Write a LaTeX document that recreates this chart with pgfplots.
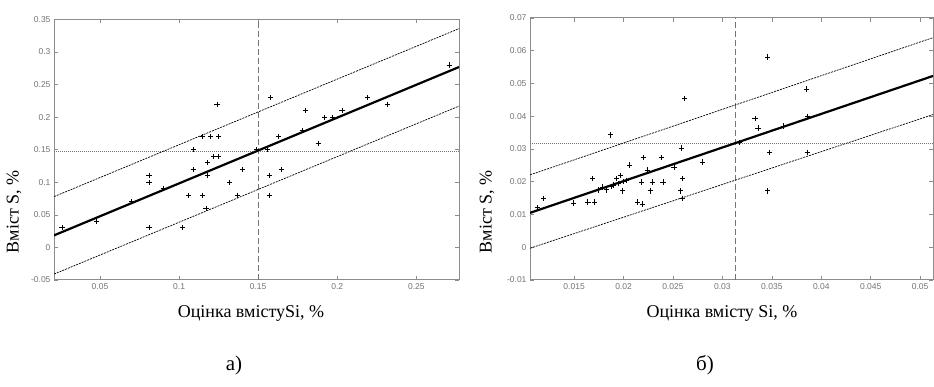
\documentclass[border=0pt]{standalone}
\usepackage{fontspec}
\setmainfont{Liberation Serif}
\newfontfamily\ticksans{Liberation Sans}
\usepackage{pgfplots}
\pgfplotsset{compat=1.18}

\pgfplotsset{
  regr/.style={
    scale only axis,
    axis line style={black!45, line width=1pt},
    tick style={black!45, line width=0.6pt},
    major tick length=4pt,
    tick align=inside,
    ticklabel style={font=\ticksans\fontsize{8.5}{8.5}\selectfont, text=black!55},
    scaled ticks=false,
    /pgf/number format/fixed,
    /pgf/number format/precision=3,
    /pgf/number format/assume math mode=true,
    clip=true,
  },
  obs/.style={only marks, mark=+, mark size=2.6pt, black, line width=0.9pt},
  fit/.style={black, line width=2.2pt},
  band/.style={black, line width=0.7pt, dash pattern=on 2pt off 1pt},
  vmean/.style={black!55, line width=0.7pt, dash pattern=on 6pt off 3pt},
  hmean/.style={black!55, line width=0.7pt, dash pattern=on 1pt off 1pt},
}

\begin{document}
\begin{tikzpicture}[x=1pt,y=1pt]
\useasboundingbox (0,0) rectangle (934,387);

% ---------- a) ----------
\begin{axis}[regr, at={(54pt,107pt)}, anchor=south west,
  width=405pt, height=260.5pt,
  xmin=0.0209, xmax=0.277, ymin=-0.05, ymax=0.35,
  xtick={0.05,0.1,0.15,0.2,0.25},
  ytick={-0.05,0,0.05,0.1,0.15,0.2,0.25,0.3,0.35}]
\addplot[vmean] coordinates {(0.15,-0.05) (0.15,0.35)};
\addplot[hmean] coordinates {(0.0209,0.148) (0.277,0.148)};
\addplot[band] coordinates {(0.0209,0.078) (0.277,0.336)};
\addplot[band] coordinates {(0.0209,-0.041) (0.277,0.217)};
\addplot[fit] coordinates {(0.0209,0.0185) (0.277,0.277)};
\addplot[obs] coordinates {
 (0.026,0.03) (0.048,0.04) (0.07,0.07) (0.081,0.03) (0.081,0.10) (0.081,0.11)
 (0.09,0.09) (0.102,0.03) (0.106,0.08) (0.109,0.12) (0.109,0.15) (0.115,0.08)
 (0.115,0.17) (0.117,0.06) (0.118,0.11) (0.118,0.13) (0.12,0.17) (0.122,0.14)
 (0.124,0.22) (0.125,0.14) (0.125,0.17) (0.132,0.10) (0.137,0.08) (0.14,0.12)
 (0.149,0.15) (0.156,0.15) (0.157,0.11) (0.157,0.08) (0.158,0.23) (0.163,0.17)
 (0.165,0.12) (0.178,0.18) (0.18,0.21) (0.188,0.16) (0.192,0.20) (0.197,0.20)
 (0.203,0.21) (0.219,0.23) (0.232,0.22) (0.271,0.28)};
\end{axis}

% ---------- б) ----------
\begin{axis}[regr, at={(530pt,107pt)}, anchor=south west,
  width=403pt, height=262pt,
  xmin=0.01054, xmax=0.0513, ymin=-0.01, ymax=0.07,
  xtick={0.015,0.02,0.025,0.03,0.035,0.04,0.045,0.05},
  ytick={-0.01,0,0.01,0.02,0.03,0.04,0.05,0.06,0.07}]
\addplot[vmean] coordinates {(0.0313,-0.01) (0.0313,0.07)};
\addplot[hmean] coordinates {(0.01054,0.0318) (0.0513,0.0318)};
\addplot[band] coordinates {(0.01054,0.0221) (0.0513,0.0640)};
\addplot[band] coordinates {(0.01054,-0.0003) (0.0513,0.0405)};
\addplot[fit] coordinates {(0.01054,0.0105) (0.0513,0.0523)};
\addplot[obs] coordinates {
 (0.0113,0.012) (0.0119,0.015) (0.0149,0.0135) (0.0164,0.0138) (0.0171,0.0138)
 (0.0169,0.0211) (0.0175,0.0175) (0.0179,0.0184) (0.0183,0.0175) (0.0187,0.0343)
 (0.0188,0.0186) (0.0190,0.019) (0.0193,0.021) (0.0195,0.0195) (0.0197,0.022)
 (0.0200,0.020) (0.0199,0.0172) (0.0203,0.0205) (0.0206,0.0251) (0.0214,0.0138)
 (0.0218,0.0199) (0.0219,0.0132) (0.0220,0.0273) (0.0224,0.0236) (0.0227,0.0172)
 (0.0229,0.0199) (0.0238,0.0273) (0.0240,0.0199) (0.0251,0.0245) (0.0258,0.0172)
 (0.0259,0.0303) (0.0260,0.0211) (0.0260,0.015) (0.0262,0.0453) (0.0280,0.026)
 (0.0317,0.0321) (0.0333,0.0392) (0.0336,0.0364) (0.0346,0.0581) (0.0348,0.029)
 (0.0346,0.0172) (0.0362,0.037) (0.0385,0.0483) (0.0386,0.040) (0.0386,0.029)};
\end{axis}

% axis titles and panel captions
\node[rotate=90, font=\fontsize{18}{18}\selectfont] at (14,175) {Вміст S, \%};
\node[rotate=90, font=\fontsize{18}{18}\selectfont] at (487,175) {Вміст S, \%};
\node[font=\fontsize{18}{18}\selectfont] at (251,74) {Оцінка вмістуSi, \%};
\node[font=\fontsize{18}{18}\selectfont] at (722,74) {Оцінка вмісту Si, \%};
\node[font=\fontsize{21}{21}\selectfont] at (234,22) {а)};
\node[font=\fontsize{21}{21}\selectfont] at (705,22) {б)};
\end{tikzpicture}
\end{document}
